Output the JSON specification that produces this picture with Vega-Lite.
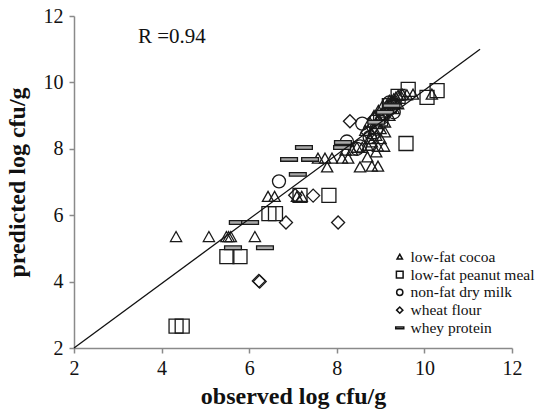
{
  "$schema": "https://vega.github.io/schema/vega-lite/v6.json",
  "autosize": {"type": "none"},
  "padding": {"left": 74, "top": 16, "right": 23, "bottom": 63},
  "width": 438,
  "height": 332,
  "config": {
    "view": {"stroke": null},
    "axis": {
      "grid": false,
      "domainColor": "#8a8a8a",
      "domainWidth": 1.5,
      "tickColor": "#8a8a8a",
      "tickWidth": 1.5,
      "tickSize": 5,
      "labelFont": "Liberation Serif",
      "labelFontSize": 20,
      "labelColor": "#111",
      "labelFlush": false,
      "labelOverlap": false,
      "titleFont": "Liberation Serif",
      "titleFontSize": 24,
      "titleFontWeight": "bold",
      "titleColor": "#111"
    },
    "legend": {
      "labelFont": "Liberation Serif",
      "labelFontSize": 15.5,
      "labelColor": "#111",
      "labelLimit": 400
    }
  },
  "datasets": {
    "pts": [
      {"t": "low-fat cocoa", "obs": 4.33, "pred": 5.35},
      {"t": "low-fat cocoa", "obs": 5.08, "pred": 5.35},
      {"t": "low-fat cocoa", "obs": 5.48, "pred": 5.35},
      {"t": "low-fat cocoa", "obs": 5.53, "pred": 5.35},
      {"t": "low-fat cocoa", "obs": 5.58, "pred": 5.35},
      {"t": "low-fat cocoa", "obs": 6.13, "pred": 5.35},
      {"t": "low-fat cocoa", "obs": 6.43, "pred": 6.56},
      {"t": "low-fat cocoa", "obs": 6.58, "pred": 6.56},
      {"t": "low-fat cocoa", "obs": 7.09, "pred": 6.56},
      {"t": "low-fat cocoa", "obs": 7.2, "pred": 6.56},
      {"t": "low-fat cocoa", "obs": 7.57, "pred": 7.71},
      {"t": "low-fat cocoa", "obs": 7.73, "pred": 7.71},
      {"t": "low-fat cocoa", "obs": 7.89, "pred": 7.71},
      {"t": "low-fat cocoa", "obs": 8.12, "pred": 7.71},
      {"t": "low-fat cocoa", "obs": 8.26, "pred": 7.71},
      {"t": "low-fat cocoa", "obs": 7.78, "pred": 7.45},
      {"t": "low-fat cocoa", "obs": 8.53, "pred": 7.45},
      {"t": "low-fat cocoa", "obs": 8.8, "pred": 7.47},
      {"t": "low-fat cocoa", "obs": 8.94, "pred": 7.47},
      {"t": "low-fat cocoa", "obs": 8.46, "pred": 8.04},
      {"t": "low-fat cocoa", "obs": 8.58, "pred": 8.04},
      {"t": "low-fat cocoa", "obs": 8.94, "pred": 8.07},
      {"t": "low-fat cocoa", "obs": 9.08, "pred": 8.07},
      {"t": "low-fat cocoa", "obs": 8.2, "pred": 7.95},
      {"t": "low-fat cocoa", "obs": 8.35, "pred": 7.95},
      {"t": "low-fat cocoa", "obs": 8.7, "pred": 8.1},
      {"t": "low-fat cocoa", "obs": 8.75, "pred": 8.3},
      {"t": "low-fat cocoa", "obs": 8.8, "pred": 8.45},
      {"t": "low-fat cocoa", "obs": 8.85, "pred": 8.6},
      {"t": "low-fat cocoa", "obs": 8.9, "pred": 8.75},
      {"t": "low-fat cocoa", "obs": 8.95, "pred": 8.9},
      {"t": "low-fat cocoa", "obs": 9.0, "pred": 9.0},
      {"t": "low-fat cocoa", "obs": 9.05, "pred": 9.1},
      {"t": "low-fat cocoa", "obs": 9.1, "pred": 9.2},
      {"t": "low-fat cocoa", "obs": 9.15, "pred": 9.3},
      {"t": "low-fat cocoa", "obs": 9.2, "pred": 9.35},
      {"t": "low-fat cocoa", "obs": 9.25, "pred": 9.45},
      {"t": "low-fat cocoa", "obs": 9.3, "pred": 9.5},
      {"t": "low-fat cocoa", "obs": 9.35, "pred": 9.55},
      {"t": "low-fat cocoa", "obs": 9.4, "pred": 9.6},
      {"t": "low-fat cocoa", "obs": 9.45, "pred": 9.62},
      {"t": "low-fat cocoa", "obs": 9.5, "pred": 9.63},
      {"t": "low-fat cocoa", "obs": 9.6, "pred": 9.62},
      {"t": "low-fat cocoa", "obs": 9.74, "pred": 9.64},
      {"t": "low-fat cocoa", "obs": 10.17, "pred": 9.64},
      {"t": "low-fat cocoa", "obs": 8.8, "pred": 8.2},
      {"t": "low-fat cocoa", "obs": 8.9, "pred": 8.4},
      {"t": "low-fat cocoa", "obs": 9.0, "pred": 8.6},
      {"t": "low-fat cocoa", "obs": 9.1, "pred": 8.8},
      {"t": "low-fat cocoa", "obs": 9.2, "pred": 9.0},
      {"t": "low-fat cocoa", "obs": 9.3, "pred": 9.2},
      {"t": "low-fat cocoa", "obs": 9.4, "pred": 9.35},
      {"t": "low-fat cocoa", "obs": 8.65, "pred": 8.55},
      {"t": "low-fat cocoa", "obs": 8.75, "pred": 8.8},
      {"t": "low-fat cocoa", "obs": 8.85, "pred": 9.0},
      {"t": "low-fat cocoa", "obs": 8.95, "pred": 9.15},
      {"t": "low-fat cocoa", "obs": 9.05, "pred": 9.3},
      {"t": "low-fat cocoa", "obs": 9.2, "pred": 9.45},
      {"t": "low-fat cocoa", "obs": 8.7, "pred": 7.75},
      {"t": "low-fat cocoa", "obs": 8.9, "pred": 7.9},
      {"t": "low-fat cocoa", "obs": 9.0, "pred": 8.3},
      {"t": "low-fat cocoa", "obs": 9.1, "pred": 8.5},
      {"t": "low-fat peanut meal", "obs": 4.33, "pred": 2.66},
      {"t": "low-fat peanut meal", "obs": 4.47, "pred": 2.66},
      {"t": "low-fat peanut meal", "obs": 5.49, "pred": 4.75},
      {"t": "low-fat peanut meal", "obs": 5.79, "pred": 4.75},
      {"t": "low-fat peanut meal", "obs": 6.45, "pred": 6.05},
      {"t": "low-fat peanut meal", "obs": 6.6, "pred": 6.05},
      {"t": "low-fat peanut meal", "obs": 7.16, "pred": 6.6},
      {"t": "low-fat peanut meal", "obs": 7.82, "pred": 6.6},
      {"t": "low-fat peanut meal", "obs": 9.58, "pred": 8.16},
      {"t": "low-fat peanut meal", "obs": 9.63, "pred": 9.79},
      {"t": "low-fat peanut meal", "obs": 9.4, "pred": 9.58},
      {"t": "low-fat peanut meal", "obs": 10.29, "pred": 9.75},
      {"t": "low-fat peanut meal", "obs": 10.06, "pred": 9.55},
      {"t": "low-fat peanut meal", "obs": 9.2, "pred": 9.3},
      {"t": "low-fat peanut meal", "obs": 9.0, "pred": 8.9},
      {"t": "non-fat dry milk", "obs": 6.68, "pred": 7.02},
      {"t": "non-fat dry milk", "obs": 8.23, "pred": 8.22},
      {"t": "non-fat dry milk", "obs": 8.58, "pred": 8.76},
      {"t": "non-fat dry milk", "obs": 8.46, "pred": 8.0},
      {"t": "non-fat dry milk", "obs": 8.53, "pred": 8.07},
      {"t": "non-fat dry milk", "obs": 8.9, "pred": 8.6},
      {"t": "non-fat dry milk", "obs": 9.05, "pred": 8.95},
      {"t": "non-fat dry milk", "obs": 9.3, "pred": 9.1},
      {"t": "non-fat dry milk", "obs": 8.75, "pred": 8.35},
      {"t": "non-fat dry milk", "obs": 9.2, "pred": 9.4},
      {"t": "wheat flour", "obs": 6.22, "pred": 4.02},
      {"t": "wheat flour", "obs": 6.24, "pred": 4.0},
      {"t": "wheat flour", "obs": 6.84, "pred": 5.78},
      {"t": "wheat flour", "obs": 8.03, "pred": 5.78},
      {"t": "wheat flour", "obs": 7.46, "pred": 6.59},
      {"t": "wheat flour", "obs": 7.05, "pred": 6.6},
      {"t": "wheat flour", "obs": 8.3, "pred": 8.83},
      {"t": "wheat flour", "obs": 8.85, "pred": 8.9},
      {"t": "wheat flour", "obs": 9.1, "pred": 9.0},
      {"t": "wheat flour", "obs": 9.3, "pred": 9.35},
      {"t": "wheat flour", "obs": 8.7, "pred": 8.5},
      {"t": "whey protein", "obs": 5.63, "pred": 5.02},
      {"t": "whey protein", "obs": 6.36, "pred": 5.02},
      {"t": "whey protein", "obs": 5.74, "pred": 5.78},
      {"t": "whey protein", "obs": 6.02, "pred": 5.78},
      {"t": "whey protein", "obs": 7.11, "pred": 7.23},
      {"t": "whey protein", "obs": 6.91, "pred": 7.68},
      {"t": "whey protein", "obs": 7.39, "pred": 7.68},
      {"t": "whey protein", "obs": 7.25, "pred": 8.04},
      {"t": "whey protein", "obs": 8.14, "pred": 8.19},
      {"t": "whey protein", "obs": 8.12, "pred": 8.04},
      {"t": "whey protein", "obs": 8.9, "pred": 8.8},
      {"t": "whey protein", "obs": 9.1, "pred": 9.1},
      {"t": "whey protein", "obs": 9.25, "pred": 9.3}
    ],
    "fitline": [
      {"obs": 2, "pred": 2},
      {"obs": 11.27, "pred": 11}
    ],
    "note": [
      {"obs": 3.46, "pred": 11.37, "label": "R =0.94"}
    ]
  },
  "layer": [
    {
      "data": {"name": "pts"},
      "mark": {"type": "point", "filled": false, "stroke": "#1a1a1a", "strokeWidth": 1.3, "opacity": 1, "size": 196},
      "encoding": {
        "x": {
          "field": "obs", "type": "quantitative",
          "scale": {"domain": [2, 12], "nice": false, "zero": false},
          "axis": {"values": [2, 4, 6, 8, 10, 12], "title": "observed log cfu/g", "labelPadding": 5, "titlePadding": 6}
        },
        "y": {
          "field": "pred", "type": "quantitative",
          "scale": {"domain": [2, 12], "nice": false, "zero": false},
          "axis": {"values": [2, 4, 6, 8, 10, 12], "title": "predicted log cfu/g", "labelPadding": 6, "titlePadding": 14}
        },
        "shape": {
          "field": "t", "type": "nominal",
          "scale": {
            "domain": ["low-fat cocoa", "low-fat peanut meal", "non-fat dry milk", "wheat flour", "whey protein"],
            "range": [
              "M0,-0.75L0.8,0.68L-0.8,0.68Z",
              "M-1,-1L1,-1L1,1L-1,1Z",
              "M0.93,0A0.93,0.93,0,1,1,-0.93,0A0.93,0.93,0,1,1,0.93,0Z",
              "M-0.93,0L0,-0.93L0.93,0L0,0.93Z",
              "M-1.2,-0.26L1.2,-0.26L1.2,0.26L-1.2,0.26Z"
            ]
          },
          "legend": {
            "title": null,
            "orient": "none",
            "legendX": 318,
            "legendY": 233,
            "padding": 0,
            "labelFont": "Liberation Serif",
            "labelFontSize": 15.5,
            "labelColor": "#111",
            "labelLimit": 400,
            "labelOffset": 3,
            "rowPadding": 0.8,
            "symbolSize": 45,
            "symbolStrokeColor": "#111",
            "symbolStrokeWidth": 1.5,
            "symbolFillColor": "transparent",
            "encode": {
              "symbols": {
                "update": {
                  "fill": {"signal": "datum.value === 'whey protein' ? '#111' : 'transparent'"}
                }
              }
            }
          }
        },
        "fill": {
          "condition": {"test": "datum.t === 'whey protein'", "value": "#a8a8a8"},
          "value": "transparent"
        }
      }
    },
    {
      "data": {"name": "fitline"},
      "mark": {"type": "line", "color": "#111", "strokeWidth": 1.3},
      "encoding": {
        "x": {"field": "obs", "type": "quantitative"},
        "y": {"field": "pred", "type": "quantitative"}
      }
    },
    {
      "data": {"name": "note"},
      "mark": {"type": "text", "font": "Liberation Serif", "fontSize": 21, "align": "left", "baseline": "middle", "color": "#111"},
      "encoding": {
        "x": {"field": "obs", "type": "quantitative"},
        "y": {"field": "pred", "type": "quantitative"},
        "text": {"field": "label"}
      }
    }
  ]
}
